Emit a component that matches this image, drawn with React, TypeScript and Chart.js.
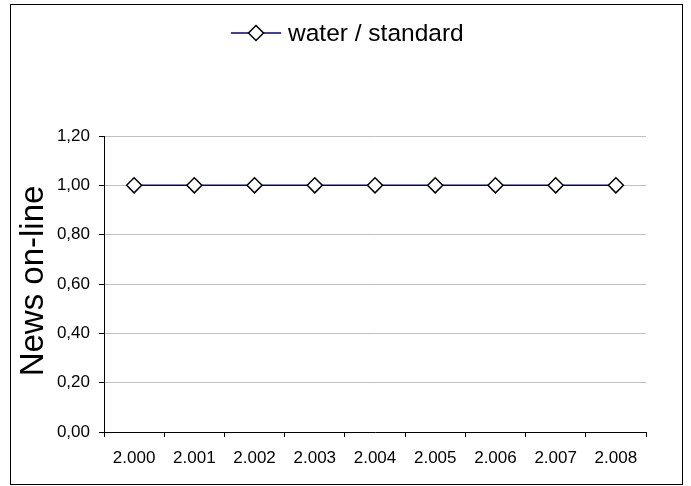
import React, { useEffect, useRef } from "react";
import { Chart, registerables } from "chart.js";

Chart.register(...registerables);

const categories = ["2.000", "2.001", "2.002", "2.003", "2.004", "2.005", "2.006", "2.007", "2.008"];
const waterStandard = [1, 1, 1, 1, 1, 1, 1, 1, 1];
const seriesLabel = "water / standard";
const yTitle = "News on-line";
const yMin = 0;
const yMax = 1.2;
const yStep = 0.2;

const FONT = "'Liberation Sans', Arial, sans-serif";

const decorPlugin = {
  id: "decor",
  beforeDraw(chart: any) {
    const ctx = chart.ctx;
    ctx.save();
    ctx.fillStyle = "#ffffff";
    ctx.fillRect(0, 0, chart.width, chart.height);
    ctx.strokeStyle = "#000000";
    ctx.lineWidth = 1;
    ctx.strokeRect(10.5, 4.5, 672, 480);
    ctx.restore();
  },
  afterDraw(chart: any) {
    const ctx = chart.ctx;
    const area = chart.chartArea;
    ctx.save();
    // y title
    ctx.translate(34, (area.top + area.bottom) / 2 - 3);
    ctx.rotate(-Math.PI / 2);
    ctx.fillStyle = "#000";
    ctx.font = `33px ${FONT}`;
    ctx.textAlign = "center";
    ctx.textBaseline = "middle";
    ctx.fillText(yTitle, 0, 0);
    ctx.restore();

    // legend
    ctx.save();
    const ly = 33;
    ctx.strokeStyle = "#000080";
    ctx.lineWidth = 1.5;
    ctx.beginPath();
    ctx.moveTo(231, ly);
    ctx.lineTo(281, ly);
    ctx.stroke();
    const cx = 256, r = 7.5;
    ctx.beginPath();
    ctx.moveTo(cx, ly - r);
    ctx.lineTo(cx + r, ly);
    ctx.lineTo(cx, ly + r);
    ctx.lineTo(cx - r, ly);
    ctx.closePath();
    ctx.fillStyle = "#fff";
    ctx.fill();
    ctx.strokeStyle = "#000";
    ctx.stroke();
    ctx.fillStyle = "#000";
    ctx.font = `24.5px ${FONT}`;
    ctx.textAlign = "left";
    ctx.textBaseline = "middle";
    ctx.fillText(seriesLabel, 288, ly + 1);
    ctx.restore();
  },
};

export default function App() {
  const ref = useRef<HTMLCanvasElement | null>(null);
  useEffect(() => {
    document.body.style.margin = "0";
    const canvas = ref.current!;
    const chart = new Chart(canvas, {
      type: "line",
      data: {
        labels: categories,
        datasets: [
          {
            label: seriesLabel,
            data: waterStandard,
            borderColor: "#000080",
            borderWidth: 1.5,
            pointStyle: "rectRot",
            pointRadius: 7.5,
            pointHoverRadius: 7.5,
            pointBackgroundColor: "#ffffff",
            pointBorderColor: "#000000",
            pointBorderWidth: 1.5,
            tension: 0,
          },
        ],
      },
      options: {
        animation: false,
        responsive: false,
        devicePixelRatio: 1,
        layout: { padding: { top: 136, right: 45, bottom: 0, left: 0 } },
        plugins: { legend: { display: false }, tooltip: { enabled: false } },
        scales: {
          x: {
            offset: true,
            grid: {
              offset: true,
              drawOnChartArea: false,
              tickLength: 5,
              tickColor: "#000",
            },
            border: { color: "#000", width: 1 },
            ticks: { color: "#000", font: { family: FONT, size: 17 }, padding: 11, maxRotation: 0, autoSkip: false },
            afterFit(scale: any) {
              scale.height = 54;
            },
          },
          y: {
            min: yMin,
            max: yMax,
            grid: { color: "#c0c0c0", tickLength: 5, tickColor: "#000" },
            border: { color: "#000", width: 1 },
            ticks: {
              stepSize: yStep,
              color: "#000",
              padding: 9,
              font: { family: FONT, size: 17 },
              callback: (v: any) => Number(v).toFixed(2).replace(".", ","),
            },
            afterFit(scale: any) {
              scale.width = 104;
            },
          },
        },
      },
      plugins: [decorPlugin],
    } as any);
    return () => chart.destroy();
  }, []);
  return <canvas ref={ref} width={691} height={486} style={{ display: "block" }} />;
}
